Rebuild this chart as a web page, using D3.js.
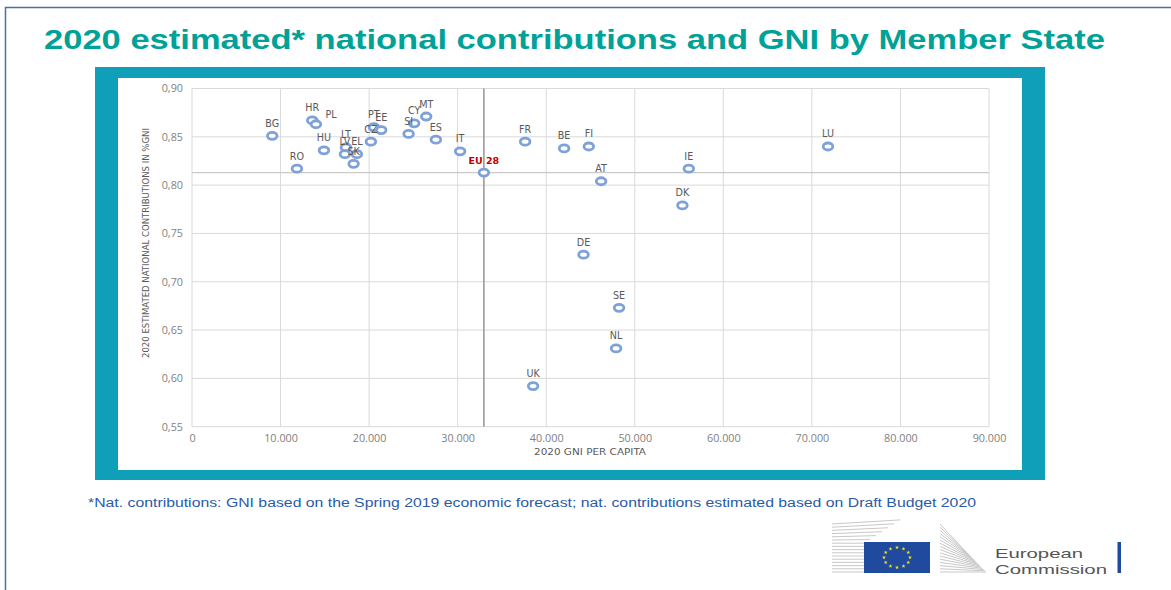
<!DOCTYPE html>
<html>
<head>
<meta charset="utf-8">
<script src="https://cdn.jsdelivr.net/npm/d3@7"></script>
<style>
  body { margin: 0; background: #fff; }
  svg { display: block; }
</style>
</head>
<body>
<div id="topdiv"></div>
<script>
// member state codes, 2020 GNI per capita and estimated contribution in % GNI
var countries = ["BG", "HR", "PL", "HU", "RO", "LT", "LV", "EL", "SK", "PT", "EE", "CZ", "SI", "CY", "MT", "ES", "IT",
    "EU 28", "FR", "BE", "FI", "AT", "IE", "DK", "LU", "DE", "SE", "NL", "UK"];
var gniPerCapita = [9060, 13580, 14000, 14900, 11850, 17380, 17270, 18620, 18250, 20540, 21370, 20200, 24460, 25090, 26450, 27540, 30280,
    32960, 37620, 42020, 44810, 46200, 56100, 55380, 71820, 44210, 48230, 47890, 38520];
var contribution = [0.851, 0.867, 0.863, 0.836, 0.817, 0.839, 0.832, 0.832, 0.822, 0.860, 0.857, 0.845, 0.853, 0.864, 0.871, 0.847, 0.835,
    0.813, 0.845, 0.838, 0.840, 0.804, 0.817, 0.779, 0.840, 0.728, 0.673, 0.631, 0.592];

var xTicks = [0, 10000, 20000, 30000, 40000, 50000, 60000, 70000, 80000, 90000];
var yTicks = [0.55, 0.60, 0.65, 0.70, 0.75, 0.80, 0.85, 0.90];

var titleText = "2020 estimated* national contributions and GNI by Member State";
var noteText = "*Nat. contributions: GNI based on the Spring 2019 economic forecast; nat. contributions estimated based on Draft Budget 2020";
var xTitle = "2020 GNI PER CAPITA";
var yTitle = "2020 ESTIMATED NATIONAL CONTRIBUTIONS IN %GNI";

drawSlide();

function drawSlide() {
    var W = 1171, H = 590;
    var svg = d3.select("#topdiv").append("svg")
        .attr("width", W)
        .attr("height", H);

    // slide border
    svg.append("rect")
        .attr("x", 5.5).attr("y", 7.5)
        .attr("width", 1200).attr("height", 600)
        .attr("fill", "none")
        .attr("stroke", "#4a72a0")
        .attr("stroke-width", 1.5);

    // title
    svg.append("text")
        .attr("x", 44).attr("y", 49)
        .attr("font-family", "Liberation Sans, Arial, sans-serif")
        .attr("font-weight", "bold")
        .attr("font-size", 28)
        .attr("fill", "#00a197")
        .attr("textLength", 1061)
        .attr("lengthAdjust", "spacingAndGlyphs")
        .text(titleText);

    // teal frame round the chart
    svg.append("rect")
        .attr("x", 95).attr("y", 67)
        .attr("width", 950).attr("height", 413)
        .attr("fill", "#0f9fb8");
    svg.append("rect")
        .attr("x", 118).attr("y", 78)
        .attr("width", 904).attr("height", 392)
        .attr("fill", "#fff");

    // scales
    var x = d3.scaleLinear().domain([0, 90000]).range([192, 989]);
    var y = d3.scaleLinear().domain([0.55, 0.90]).range([426.7, 88.5]);

    var loc = d3.formatLocale({decimal: ",", thousands: ".", grouping: [3], currency: ["", "€"]});

    var data = countries.map(function(c, i) {
        return {name: c, gni: gniPerCapita[i], val: contribution[i]};
    });
    var eu = data.filter(function(d) { return d.name == "EU 28"; })[0];

    // grid
    svg.append("g").selectAll("line")
        .data(xTicks).enter().append("line")
        .attr("x1", function(d) { return x(d); })
        .attr("x2", function(d) { return x(d); })
        .attr("y1", y(0.90)).attr("y2", y(0.55))
        .attr("stroke", "#d9d9d9").attr("stroke-width", 1);
    svg.append("g").selectAll("line")
        .data(yTicks).enter().append("line")
        .attr("x1", x(0)).attr("x2", x(90000))
        .attr("y1", function(d) { return y(d); })
        .attr("y2", function(d) { return y(d); })
        .attr("stroke", "#d9d9d9").attr("stroke-width", 1);

    // EU 28 reference lines
    svg.append("line")
        .attr("x1", x(0)).attr("x2", x(90000))
        .attr("y1", y(eu.val)).attr("y2", y(eu.val))
        .attr("stroke", "#cacaca").attr("stroke-width", 1.2);
    svg.append("line")
        .attr("x1", x(eu.gni)).attr("x2", x(eu.gni))
        .attr("y1", y(0.90)).attr("y2", y(0.55))
        .attr("stroke", "#9a9a9a").attr("stroke-width", 1.6);

    // axes (no lines, just labels)
    var xAxis = svg.append("g")
        .attr("transform", "translate(0," + y(0.55) + ")")
        .call(d3.axisBottom(x).tickValues(xTicks).tickSize(0).tickPadding(8)
            .tickFormat(function(d) { return d == 0 ? "0" : loc.format(",")(d); }));
    var yAxis = svg.append("g")
        .attr("transform", "translate(" + x(0) + ",0)")
        .call(d3.axisLeft(y).tickValues(yTicks).tickSize(0).tickPadding(9)
            .tickFormat(loc.format(".2f")));
    [xAxis, yAxis].forEach(function(a) {
        a.select(".domain").remove();
        a.selectAll("text")
            .attr("font-family", "Open Sans, sans-serif")
            .attr("font-size", 10.8)
            .attr("fill", "#7f7f7f");
    });

    // axis titles
    svg.append("text")
        .attr("x", 590).attr("y", 455)
        .attr("text-anchor", "middle")
        .attr("font-family", "Liberation Sans Narrow, DejaVu Sans Condensed, sans-serif")
        .attr("font-size", 9.5)
        .attr("fill", "#595959")
        .attr("textLength", 112)
        .attr("lengthAdjust", "spacingAndGlyphs")
        .text(xTitle);
    svg.append("text")
        .attr("transform", "translate(149,243) rotate(-90)")
        .attr("text-anchor", "middle")
        .attr("font-family", "Liberation Sans Narrow, DejaVu Sans Condensed, sans-serif")
        .attr("font-size", 9.5)
        .attr("fill", "#595959")
        .attr("textLength", 230)
        .attr("lengthAdjust", "spacingAndGlyphs")
        .text(yTitle);

    // points
    svg.append("g").selectAll("ellipse")
        .data(data).enter().append("ellipse")
        .attr("cx", function(d) { return x(d.gni); })
        .attr("cy", function(d) { return y(d.val); })
        .attr("rx", 4.8).attr("ry", 3.5)
        .attr("fill", "#fff")
        .attr("stroke", "#7ea2d8")
        .attr("stroke-width", 2.8);

    // labels above the points (PL label sits to the right of its point, as on the slide)
    svg.append("g").selectAll("text")
        .data(data).enter().append("text")
        .attr("x", function(d) { return x(d.gni) + (d.name == "PL" ? 15 : 0); })
        .attr("y", function(d) { return y(d.val) - (d.name == "PL" ? 6 : 9); })
        .attr("text-anchor", "middle")
        .attr("font-family", "DejaVu Sans, sans-serif")
        .attr("font-size", function(d) { return d.name == "EU 28" ? 9.5 : 9.6; })
        .attr("font-weight", function(d) { return d.name == "EU 28" ? "bold" : "normal"; })
        .attr("fill", function(d) { return d.name == "EU 28" ? "#c00000" : "#595959"; })
        .text(function(d) { return d.name; });

    // footnote
    svg.append("text")
        .attr("x", 88).attr("y", 507)
        .attr("font-family", "Liberation Sans, Arial, sans-serif")
        .attr("font-size", 12.5)
        .attr("fill", "#2a5aa8")
        .attr("textLength", 888)
        .attr("lengthAdjust", "spacingAndGlyphs")
        .text(noteText);

    drawLogo(svg);
}

function drawLogo(svg) {
    var g = svg.append("g");
    // building lines, left part
    d3.range(16).forEach(function(i) {
        var yy = 572 - i * 3.2;
        var x2 = yy > 542 ? 866 : 866 + (542 - yy) * 1.9;
        g.append("line")
            .attr("x1", 832).attr("x2", x2)
            .attr("y1", yy).attr("y2", yy - (x2 - 866) * 0.12)
            .attr("stroke", "#c8c8c8").attr("stroke-width", 1);
    });
    // building lines, right part
    d3.range(16).forEach(function(i) {
        var yy = 572 - i * 3.2;
        g.append("line")
            .attr("x1", 940).attr("x2", 940 + 46 - i * 1.2)
            .attr("y1", yy).attr("y2", 572 - i * 1.2)
            .attr("stroke", "#c8c8c8").attr("stroke-width", 1);
    });
    // flag
    g.append("rect")
        .attr("x", 864).attr("y", 542)
        .attr("width", 66).attr("height", 31)
        .attr("fill", "#1f4a9e");
    d3.range(12).forEach(function(i) {
        var a = i / 12 * 2 * Math.PI;
        g.append("path")
            .attr("d", d3.symbol().type(d3.symbolStar).size(5)())
            .attr("transform", "translate(" + (897 + 13 * Math.sin(a)) + "," + (557.5 - 10 * Math.cos(a)) + ")")
            .attr("fill", "#f7e017");
    });
    // name
    g.append("text")
        .attr("x", 995).attr("y", 557.5)
        .attr("font-family", "Liberation Sans, Arial, sans-serif")
        .attr("font-size", 13)
        .attr("fill", "#555")
        .attr("textLength", 88)
        .attr("lengthAdjust", "spacingAndGlyphs")
        .text("European");
    g.append("text")
        .attr("x", 995).attr("y", 573.5)
        .attr("font-family", "Liberation Sans, Arial, sans-serif")
        .attr("font-size", 13)
        .attr("fill", "#555")
        .attr("textLength", 112)
        .attr("lengthAdjust", "spacingAndGlyphs")
        .text("Commission");
    g.append("rect")
        .attr("x", 1117.5).attr("y", 542)
        .attr("width", 3.5).attr("height", 31)
        .attr("fill", "#1f4a9e");
}
</script>
</body>
</html>
